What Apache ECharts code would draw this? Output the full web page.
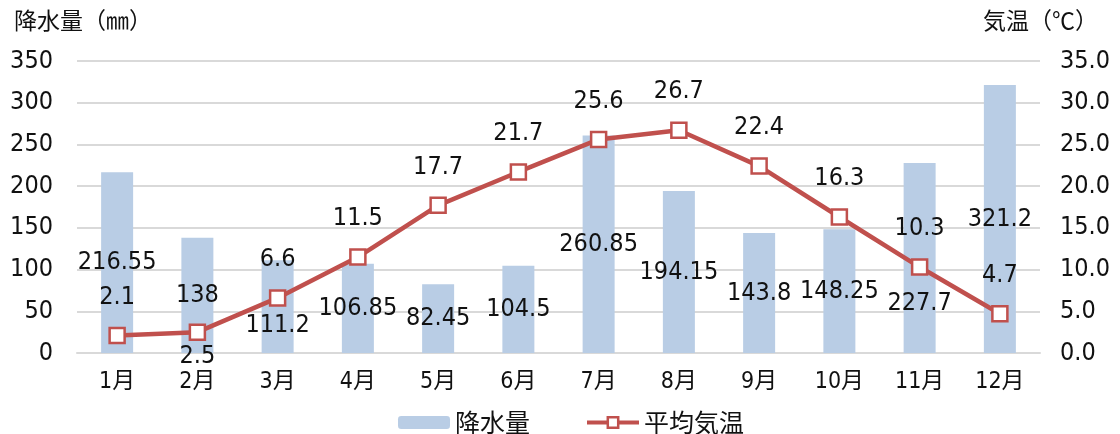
<!DOCTYPE html>
<html>
<head>
<meta charset="utf-8">
<script src="https://cdn.jsdelivr.net/npm/echarts@6/dist/echarts.min.js"></script>
<style>
html, body { margin: 0; padding: 0; background: #fff; }
#chart { width: 1120px; height: 434px; }
</style>
</head>
<body>
<div id="chart"></div>
<script>
// data
var months = ['1月', '2月', '3月', '4月', '5月', '6月', '7月', '8月', '9月', '10月', '11月', '12月'];
var rainfall = [216.55, 138, 111.2, 106.85, 82.45, 104.5, 260.85, 194.15, 143.8, 148.25, 227.7, 321.2];
var avgTemp = [2.1, 2.5, 6.6, 11.5, 17.7, 21.7, 25.6, 26.7, 22.4, 16.3, 10.3, 4.7];
var rainAxis = { min: 0, max: 350, step: 50 };
var tempAxis = { min: 0, max: 35, step: 5 };

var font = '"DejaVu Sans Condensed", "Noto Sans CJK JP", sans-serif';
var cjk = '"Noto Sans CJK JP", sans-serif';
var textColor = '#111';
var red = '#c0504d';

var chart = echarts.init(document.getElementById('chart'));

// a couple of labels sit away from their default spot in the original
var barData = rainfall.map(function (v, i) {
  var item = { value: v };
  if (i === 2) item.label = { offset: [0, 19] };
  if (i === 10) item.label = { offset: [0, 45] };
  return item;
});
var lineData = avgTemp.map(function (v, i) {
  var item = { value: v };
  if (i === 1) item.label = { position: 'bottom', distance: 3 };
  return item;
});

var option = {
  animation: false,
  title: [
    { text: '降水量（㎜）', left: 9, top: 4, textStyle: { fontFamily: cjk, fontSize: 23, fontWeight: 'normal', color: textColor } },
    { text: '気温（℃）', right: 17, top: 4, textStyle: { fontFamily: cjk, fontSize: 23, fontWeight: 'normal', color: textColor } }
  ],
  grid: { left: 77, right: 80, top: 61, bottom: 81, containLabel: false },
  legend: {
    left: 393,
    top: 405,
    itemWidth: 52,
    itemHeight: 13,
    itemGap: 55,
    textStyle: { fontFamily: cjk, fontSize: 25, color: textColor },
    data: [
      { name: '降水量' },
      { name: '平均気温', lineStyle: { width: 4 }, itemStyle: { borderWidth: 2.5 } }
    ]
  },
  xAxis: {
    type: 'category',
    data: months,
    axisLine: { lineStyle: { color: '#d9d9d9', width: 2 } },
    axisTick: { show: false },
    axisLabel: { fontFamily: font, fontSize: 23, color: textColor, margin: 18 }
  },
  yAxis: [
    {
      type: 'value',
      min: rainAxis.min, max: rainAxis.max, interval: rainAxis.step,
      axisLine: { show: false },
      axisTick: { show: false },
      splitLine: { lineStyle: { color: '#d9d9d9', width: 2 } },
      axisLabel: { fontFamily: font, fontSize: 25, color: textColor, margin: 24 }
    },
    {
      type: 'value',
      min: tempAxis.min, max: tempAxis.max, interval: tempAxis.step,
      axisLine: { show: false },
      axisTick: { show: false },
      splitLine: { show: false },
      axisLabel: {
        fontFamily: font, fontSize: 25, color: textColor, margin: 20,
        formatter: function (v) { return v.toFixed(1); }
      }
    }
  ],
  series: [
    {
      name: '降水量',
      type: 'bar',
      yAxisIndex: 0,
      barWidth: 32,
      itemStyle: { color: '#b9cde5' },
      label: { show: true, position: 'inside', fontFamily: font, fontSize: 25, color: textColor },
      data: barData
    },
    {
      name: '平均気温',
      type: 'line',
      yAxisIndex: 1,
      symbol: 'rect',
      symbolSize: 15,
      z: 5,
      lineStyle: { color: red, width: 4.5 },
      itemStyle: { color: '#fff', borderColor: red, borderWidth: 2.5 },
      label: { show: true, position: 'top', distance: 17, fontFamily: font, fontSize: 25, color: textColor },
      data: lineData
    }
  ]
};
chart.setOption(option);
</script>
</body>
</html>
